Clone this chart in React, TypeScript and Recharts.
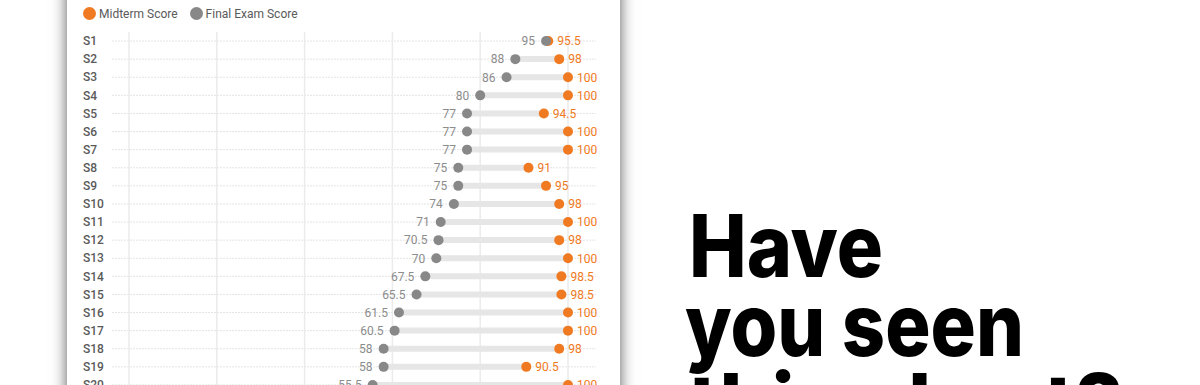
import React from 'react';
import {
  ComposedChart,
  Bar,
  Line,
  XAxis,
  YAxis,
  CartesianGrid,
  LabelList,
  Legend,
} from 'recharts';

const students = [
  'S1', 'S2', 'S3', 'S4', 'S5', 'S6', 'S7', 'S8', 'S9', 'S10',
  'S11', 'S12', 'S13', 'S14', 'S15', 'S16', 'S17', 'S18', 'S19', 'S20',
];
const midtermScores = [
  95.5, 98, 100, 100, 94.5, 100, 100, 91, 95, 98,
  100, 98, 100, 98.5, 98.5, 100, 100, 98, 90.5, 100,
];
const finalScores = [
  95, 88, 86, 80, 77, 77, 77, 75, 75, 74,
  71, 70.5, 70, 67.5, 65.5, 61.5, 60.5, 58, 58, 55.5,
];
const xTicks = [0, 20, 40, 60, 80, 100];
const legendLabels = ['Midterm Score', 'Final Exam Score'];
const headline = ['Have', 'you seen', 'this chart?'];

const ORANGE = '#F07A22';
const GRAY = '#888888';
const FONT = 'Roboto, "Noto Sans", sans-serif';

const data = students.map((name, i) => ({
  name,
  midterm: midtermScores[i],
  final: finalScores[i],
  range: [finalScores[i], midtermScores[i]],
}));

const YTick = (props: any) => {
  const { y, payload } = props;
  return (
    <text
      x={83}
      y={y}
      dy="0.35em"
      textAnchor="start"
      fontFamily={FONT}
      fontSize={12}
      fontWeight={500}
      fill="#5a5a5a"
    >
      {payload.value}
    </text>
  );
};

const renderLegend = () => (
  <div
    style={{
      height: 32,
      boxSizing: 'border-box',
      paddingLeft: 13,
      paddingTop: 6,
      display: 'flex',
      alignItems: 'flex-start',
      fontFamily: FONT,
      fontSize: 12,
      color: '#5a5a5a',
    }}
  >
    {legendLabels.map((label, i) => (
      <div
        key={label}
        style={{ display: 'flex', alignItems: 'center', height: 15, marginRight: 12 }}
      >
        <span
          style={{
            display: 'inline-block',
            width: 13,
            height: 13,
            borderRadius: '50%',
            background: i === 0 ? ORANGE : GRAY,
            marginRight: 3,
          }}
        />
        <span>{label}</span>
      </div>
    ))}
  </div>
);

export default function App() {
  return (
    <div
      style={{
        position: 'fixed',
        left: 0,
        top: 0,
        width: 1200,
        height: 385,
        overflow: 'hidden',
        background: '#fff',
      }}
    >
      <div
        style={{
          position: 'absolute',
          left: 67,
          top: -40,
          width: 553,
          height: 480,
          background: '#fff',
          boxShadow: '0 0 14px rgba(0,0,0,0.65)',
        }}
      />
      <div style={{ position: 'absolute', left: 0, top: 0 }}>
        <ComposedChart
          width={640}
          height={410}
          data={data}
          layout="vertical"
          margin={{ top: 0, right: 44, bottom: 16, left: 70 }}
          barCategoryGap={0}
        >
          <CartesianGrid
            vertical={false}
            syncWithTicks
            stroke="#e4e4e4"
            strokeDasharray="2 1"
          />
          <CartesianGrid
            horizontal={false}
            syncWithTicks
            stroke="#ebebeb"
            strokeWidth={1.5}
          />
          <XAxis
            type="number"
            domain={[0, 100]}
            ticks={xTicks}
            padding={{ left: 17, right: 28 }}
            hide
          />
          <YAxis
            type="category"
            dataKey="name"
            width={42}
            axisLine={false}
            tickLine={false}
            interval={0}
            tick={<YTick />}
          />
          <Legend verticalAlign="top" align="left" content={renderLegend} />
          <Bar
            dataKey="range"
            barSize={6}
            fill="#e6e6e6"
            isAnimationActive={false}
            legendType="none"
          />
          <Line
            dataKey="midterm"
            stroke="none"
            strokeWidth={0}
            dot={{ r: 5, fill: ORANGE, stroke: ORANGE, strokeWidth: 0 }}
            activeDot={false}
            isAnimationActive={false}
          >
            <LabelList
              dataKey="midterm"
              position="right"
              offset={9}
              fill={ORANGE}
              fontSize={12}
              fontFamily={FONT}
            />
          </Line>
          <Line
            dataKey="final"
            stroke="none"
            strokeWidth={0}
            dot={{ r: 5, fill: GRAY, stroke: GRAY, strokeWidth: 0 }}
            activeDot={false}
            isAnimationActive={false}
          >
            <LabelList
              dataKey="final"
              position="left"
              offset={11}
              fill="#8c8c8c"
              fontSize={12}
              fontFamily={FONT}
            />
          </Line>
        </ComposedChart>
      </div>
      <svg
        width={1200}
        height={385}
        style={{ position: 'absolute', left: 0, top: 0, pointerEvents: 'none' }}
      >
        <g fontFamily='Inter, "Open Sans", sans-serif' fontWeight={800} fontSize={86} fill="#000">
          <text x={689} y={277} textLength={194} lengthAdjust="spacingAndGlyphs">
            {headline[0]}
          </text>
          <text x={685} y={356} textLength={339} lengthAdjust="spacingAndGlyphs">
            {headline[1]}
          </text>
          <text x={688} y={436} textLength={435} lengthAdjust="spacingAndGlyphs">
            {headline[2]}
          </text>
        </g>
      </svg>
    </div>
  );
}
